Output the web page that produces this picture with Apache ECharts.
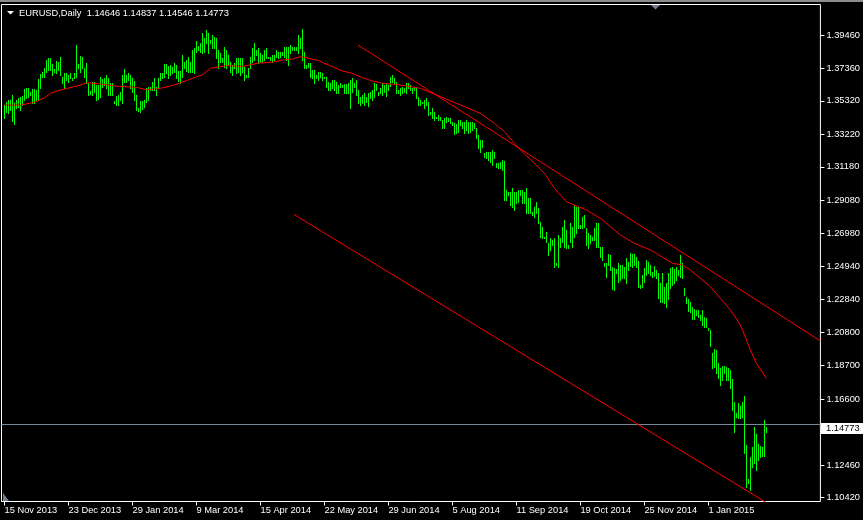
<!DOCTYPE html>
<html><head><meta charset="utf-8">
<script src="https://cdn.jsdelivr.net/npm/echarts@6/dist/echarts.min.js"></script>
<style>html,body{margin:0;padding:0;background:#000;overflow:hidden;} #c{width:863px;height:520px;}</style>
</head><body><div id="c"></div>
<script>
// ---- data ----
const dateLabels = ['15 Nov 2013','23 Dec 2013','29 Jan 2014','9 Mar 2014','15 Apr 2014','22 May 2014','29 Jun 2014','5 Aug 2014','11 Sep 2014','19 Oct 2014','25 Nov 2014','1 Jan 2015'];
const dateLabelBars = [0,32,64,96,128,160,192,224,256,288,320,352];
const priceTicks = [1.39460,1.37360,1.35320,1.33220,1.31180,1.29080,1.26980,1.24940,1.22840,1.20800,1.18700,1.16600,1.14560,1.12460,1.10420];

const barHighs = [
1.3507,1.3528,1.3538,1.3538,1.3570,1.3517,1.3538,1.3549,1.3559,1.3565,
1.3607,1.3611,1.3616,1.3590,1.3607,1.3607,1.3601,1.3670,1.3699,1.3716,
1.3741,1.3789,1.3802,1.3800,1.3764,1.3733,1.3783,1.3779,1.3810,1.3685,
1.3706,1.3706,1.3695,1.3706,1.3678,1.3706,1.3883,1.3762,1.3814,1.3806,
1.3741,1.3768,1.3643,1.3597,1.3653,1.3649,1.3632,1.3632,1.3685,1.3670,
1.3674,1.3695,1.3674,1.3643,1.3643,1.3532,1.3565,1.3570,1.3590,1.3695,
1.3731,1.3695,1.3710,1.3695,1.3678,1.3657,1.3570,1.3486,1.3532,1.3532,
1.3538,1.3616,1.3622,1.3622,1.3649,1.3678,1.3622,1.3674,1.3710,1.3706,
1.3764,1.3762,1.3754,1.3758,1.3747,1.3768,1.3758,1.3720,1.3720,1.3821,
1.3775,1.3789,1.3810,1.3779,1.3852,1.3867,1.3909,1.3879,1.3894,1.3957,
1.3925,1.3978,1.3957,1.3915,1.3946,1.3936,1.3925,1.3852,1.3831,1.3800,
1.3873,1.3852,1.3821,1.3779,1.3758,1.3768,1.3804,1.3800,1.3800,1.3800,
1.3747,1.3695,1.3737,1.3810,1.3863,1.3894,1.3852,1.3863,1.3831,1.3821,
1.3852,1.3863,1.3810,1.3810,1.3821,1.3821,1.3852,1.3842,1.3842,1.3842,
1.3873,1.3873,1.3873,1.3883,1.3873,1.3873,1.3873,1.3946,1.3925,1.3984,
1.3842,1.3758,1.3768,1.3768,1.3726,1.3726,1.3695,1.3716,1.3716,1.3706,
1.3685,1.3685,1.3653,1.3643,1.3664,1.3664,1.3653,1.3632,1.3643,1.3632,
1.3636,1.3636,1.3643,1.3664,1.3674,1.3643,1.3664,1.3601,1.3559,1.3570,
1.3580,1.3559,1.3580,1.3590,1.3601,1.3643,1.3636,1.3590,1.3611,1.3643,
1.3632,1.3643,1.3632,1.3684,1.3695,1.3674,1.3653,1.3601,1.3611,1.3622,
1.3611,1.3642,1.3642,1.3632,1.3611,1.3622,1.3622,1.3559,1.3538,1.3527,
1.3538,1.3548,1.3523,1.3465,1.3486,1.3465,1.3433,1.3444,1.3433,1.3412,
1.3423,1.3433,1.3423,1.3423,1.3402,1.3391,1.3385,1.3412,1.3412,1.3402,
1.3402,1.3412,1.3402,1.3402,1.3402,1.3391,1.3360,1.3318,1.3287,1.3287,
1.3203,1.3209,1.3213,1.3213,1.3224,1.3213,1.3140,1.3140,1.3151,1.3161,
1.3155,1.2973,1.2962,1.2962,1.2983,1.2962,1.2962,1.2973,1.2973,1.2973,
1.2962,1.2983,1.2920,1.2920,1.2837,1.2868,1.2899,1.2858,1.2774,1.2743,
1.2680,1.2711,1.2638,1.2669,1.2659,1.2669,1.2512,1.2690,1.2669,1.2743,
1.2784,1.2722,1.2627,1.2764,1.2743,1.2878,1.2868,1.2868,1.2753,1.2805,
1.2816,1.2732,1.2701,1.2690,1.2680,1.2732,1.2763,1.2763,1.2617,1.2617,
1.2512,1.2512,1.2571,1.2565,1.2487,1.2481,1.2475,1.2512,1.2502,1.2502,
1.2491,1.2544,1.2523,1.2575,1.2571,1.2571,1.2554,1.2529,1.2376,1.2439,
1.2485,1.2533,1.2523,1.2502,1.2460,1.2495,1.2470,1.2449,1.2386,1.2449,
1.2366,1.2386,1.2449,1.2481,1.2487,1.2474,1.2487,1.2470,1.2564,1.2516,
1.2355,1.2303,1.2286,1.2271,1.2240,1.2223,1.2219,1.2219,1.2188,1.2219,
1.2173,1.2167,1.2104,1.2094,1.1947,1.1972,1.1968,1.1888,1.1853,1.1867,
1.1867,1.1863,1.1853,1.1842,1.1786,1.1641,1.1572,1.1635,1.1616,1.1641,
1.1679,1.1371,1.1158,1.1296,1.1359,1.1484,1.1440,1.1377,1.1365,1.1359,
1.1528,1.14837
];
const barLows = [
1.3423,1.3465,1.3454,1.3475,1.3406,1.3387,1.3486,1.3496,1.3475,1.3507,
1.3538,1.3549,1.3559,1.3570,1.3517,1.3517,1.3538,1.3544,1.3611,1.3685,
1.3685,1.3716,1.3726,1.3726,1.3695,1.3716,1.3706,1.3726,1.3695,1.3643,
1.3611,1.3664,1.3653,1.3674,1.3664,1.3674,1.3685,1.3741,1.3716,1.3737,
1.3685,1.3643,1.3570,1.3576,1.3570,1.3590,1.3538,1.3544,1.3559,1.3622,
1.3632,1.3611,1.3570,1.3570,1.3570,1.3517,1.3507,1.3507,1.3538,1.3517,
1.3653,1.3653,1.3664,1.3611,1.3590,1.3538,1.3475,1.3469,1.3465,1.3482,
1.3496,1.3528,1.3538,1.3601,1.3601,1.3601,1.3570,1.3611,1.3664,1.3678,
1.3685,1.3706,1.3674,1.3695,1.3706,1.3716,1.3674,1.3657,1.3643,1.3685,
1.3737,1.3720,1.3716,1.3716,1.3716,1.3706,1.3842,1.3852,1.3842,1.3831,
1.3842,1.3894,1.3831,1.3894,1.3863,1.3863,1.3800,1.3737,1.3779,1.3779,
1.3747,1.3737,1.3758,1.3716,1.3695,1.3737,1.3706,1.3716,1.3695,1.3716,
1.3664,1.3685,1.3685,1.3737,1.3779,1.3789,1.3821,1.3768,1.3779,1.3779,
1.3789,1.3800,1.3800,1.3789,1.3779,1.3789,1.3810,1.3800,1.3810,1.3821,
1.3810,1.3789,1.3758,1.3831,1.3852,1.3852,1.3852,1.3831,1.3863,1.3789,
1.3737,1.3737,1.3747,1.3685,1.3674,1.3643,1.3674,1.3664,1.3685,1.3664,
1.3674,1.3622,1.3601,1.3601,1.3611,1.3601,1.3580,1.3580,1.3622,1.3622,
1.3580,1.3580,1.3580,1.3490,1.3590,1.3622,1.3570,1.3517,1.3507,1.3517,
1.3507,1.3528,1.3503,1.3549,1.3538,1.3559,1.3601,1.3570,1.3580,1.3570,
1.3590,1.3565,1.3601,1.3628,1.3649,1.3642,1.3580,1.3580,1.3569,1.3580,
1.3586,1.3580,1.3611,1.3601,1.3580,1.3601,1.3548,1.3506,1.3506,1.3517,
1.3486,1.3506,1.3444,1.3448,1.3423,1.3412,1.3423,1.3412,1.3412,1.3360,
1.3360,1.3402,1.3406,1.3391,1.3381,1.3322,1.3328,1.3339,1.3381,1.3360,
1.3328,1.3349,1.3328,1.3339,1.3349,1.3360,1.3297,1.3234,1.3213,1.3245,
1.3182,1.3172,1.3161,1.3151,1.3130,1.3172,1.3119,1.3109,1.3109,1.3098,
1.2910,1.2910,1.2941,1.2878,1.2868,1.2847,1.2889,1.2899,1.2941,1.2889,
1.2889,1.2826,1.2826,1.2826,1.2816,1.2805,1.2826,1.2764,1.2680,1.2669,
1.2669,1.2648,1.2565,1.2596,1.2627,1.2491,1.2502,1.2491,1.2617,1.2648,
1.2617,1.2606,1.2606,1.2648,1.2617,1.2680,1.2701,1.2732,1.2732,1.2732,
1.2742,1.2627,1.2606,1.2638,1.2659,1.2659,1.2617,1.2617,1.2554,1.2533,
1.2495,1.2428,1.2502,1.2470,1.2349,1.2345,1.2454,1.2397,1.2408,1.2418,
1.2418,1.2387,1.2470,1.2495,1.2491,1.2502,1.2491,1.2366,1.2355,1.2366,
1.2397,1.2439,1.2449,1.2439,1.2428,1.2433,1.2418,1.2292,1.2271,1.2271,
1.2261,1.2240,1.2286,1.2355,1.2376,1.2386,1.2407,1.2439,1.2428,1.2418,
1.2313,1.2261,1.2215,1.2209,1.2161,1.2161,1.2188,1.2173,1.2156,1.2125,
1.2110,1.2110,1.2094,1.1993,1.1853,1.1863,1.1821,1.1790,1.1748,1.1780,
1.1821,1.1780,1.1780,1.1727,1.1591,1.1453,1.1547,1.1541,1.1541,1.1547,
1.1321,1.1108,1.1133,1.1089,1.1233,1.1258,1.1214,1.1277,1.1296,1.1302,
1.1302,1.14546
];

// moving average line: [bar index, price]
const maPoints = [
[0,1.3506],[8,1.3506],[15,1.3523],[20,1.3552],[23,1.3580],[28,1.3601],[33,1.3615],[38,1.3632],[41,1.3646],[48,1.3638],
[55,1.3626],[60,1.3621],[66,1.3618],[71,1.3601],[78,1.3611],[85,1.3632],[91,1.3660],[96,1.3684],[99,1.3695],[103,1.3737],
[111,1.3753],[119,1.3749],[127,1.3770],[134,1.3775],[139,1.3789],[144,1.3795],[148,1.3810],[152,1.3800],[157,1.3785],[164,1.3747],
[169,1.3720],[174,1.3705],[179,1.3678],[184,1.3657],[189,1.3643],[198,1.3632],[208,1.3611],[218,1.3559],[228,1.3506],[238,1.3454],
[245,1.3391],[250,1.3339],[255,1.3266],[258,1.3224],[265,1.3140],[270,1.3077],[275,1.2983],[281,1.2899],[286,1.2872],[291,1.2847],
[298,1.2795],[303,1.2742],[308,1.2690],[315,1.2638],[323,1.2596],[326,1.2575],[334,1.2512],[339,1.2502],[343,1.2470],[348,1.2418],
[353,1.2365],[358,1.2292],[363,1.2219],[368,1.2125],[371,1.2031],[373,1.1968],[376,1.1884],[381,1.1790]
];
const upperTrend = [[176.75,1.3883],[408,1.2025]];
const lowerTrend = [[144.75,1.2819],[386,1.0971]];
const lastPrice = 1.14773;
const headerSymbol = 'EURUSD,Daily';
const headerOHLC = [1.14646, 1.14837, 1.14546, 1.14773];

// ---- chart ----
const FONT = '"Liberation Sans", Arial, sans-serif';
const FS = 9.3;
const chart = echarts.init(document.getElementById('c'), null, {renderer: 'canvas'});
const barData = barHighs.map((h, i) => [i, h, barLows[i]]);

const option = {
  backgroundColor: '#000',
  animation: false,
  grid: {left: 1.5, right: 42.5, top: 4.5, bottom: 18.5, show: true, borderColor: '#ffffff', borderWidth: 1, backgroundColor: 'transparent'},
  xAxis: {
    type: 'value', min: -1.5, max: 408,
    axisLine: {show: false, onZero: false}, splitLine: {show: false},
    axisTick: {show: true, length: 4, lineStyle: {color: '#ffffff'}, customValues: dateLabelBars},
    axisLabel: {customValues: dateLabelBars, color: '#ffffff', fontFamily: FONT, fontSize: FS, align: 'left', margin: 4,
      formatter: v => dateLabels[dateLabelBars.indexOf(Math.round(v))] || ''}
  },
  yAxis: {
    type: 'value', position: 'right', min: 1.10164, max: 1.41375,
    axisLine: {show: false, onZero: false}, splitLine: {show: false},
    axisTick: {show: true, length: 4, lineStyle: {color: '#ffffff'}, customValues: priceTicks},
    axisLabel: {customValues: priceTicks, color: '#ffffff', fontFamily: FONT, fontSize: FS, margin: 6,
      formatter: v => v.toFixed(5)}
  },
  series: [
    {
      type: 'custom', data: barData, silent: true, clip: true, z: 2,
      encode: {x: 0, y: [1, 2]},
      renderItem: (params, api) => {
        const p1 = api.coord([api.value(0), api.value(1)]);
        const p2 = api.coord([api.value(0), api.value(2)]);
        const x = Math.floor(p1[0]) + 0.5;
        return {type: 'line', shape: {x1: x, y1: Math.round(p1[1]), x2: x, y2: Math.round(p2[1]) + 1},
          style: {stroke: '#00ff00', lineWidth: 1}};
      }
    },
    {
      type: 'line', data: maPoints, showSymbol: false, silent: true, z: 3,
      lineStyle: {color: '#ff0000', width: 1},
      markLine: {silent: true, symbol: ['none', 'none'], label: {show: false}, z: 1,
        lineStyle: {color: '#778899', width: 1, type: 'solid'}, data: [{yAxis: lastPrice}]}
    },
    {type: 'line', data: upperTrend, showSymbol: false, silent: true, z: 3, lineStyle: {color: '#ff0000', width: 1}},
    {type: 'line', data: lowerTrend, showSymbol: false, silent: true, z: 3, lineStyle: {color: '#ff0000', width: 1}}
  ],
  graphic: [
    {type: 'rect', shape: {x: 0, y: 0, width: 863, height: 2}, style: {fill: '#8c8c8c'}, z: 10},
    {type: 'polygon', shape: {points: [[7, 11], [14, 11], [10.5, 14.5]]}, style: {fill: '#ffffff'}, z: 10},
    {type: 'text', x: 19, y: 13, z: 10, style: {text: headerSymbol + '  ' + headerOHLC.map(v => v.toFixed(5)).join(' '),
      fill: '#ffffff', font: FS + 'px ' + FONT, verticalAlign: 'middle', align: 'left'}},
    {type: 'polygon', shape: {points: [[651, 5], [660, 5], [655.5, 9.5]]}, style: {fill: '#708090'}, z: 10},
    {type: 'polygon', shape: {points: [[3, 493], [3, 501], [9, 501]]}, style: {fill: '#708090'}, z: 10},
    {type: 'rect', shape: {x: 821, y: 423, width: 42, height: 11}, style: {fill: '#ffffff'}, z: 20},
    {type: 'text', x: 826, y: 428.5, z: 21, style: {text: lastPrice.toFixed(5), fill: '#000000',
      font: FS + 'px ' + FONT, verticalAlign: 'middle', align: 'left'}}
  ]
};
chart.setOption(option);
</script>
</body></html>
